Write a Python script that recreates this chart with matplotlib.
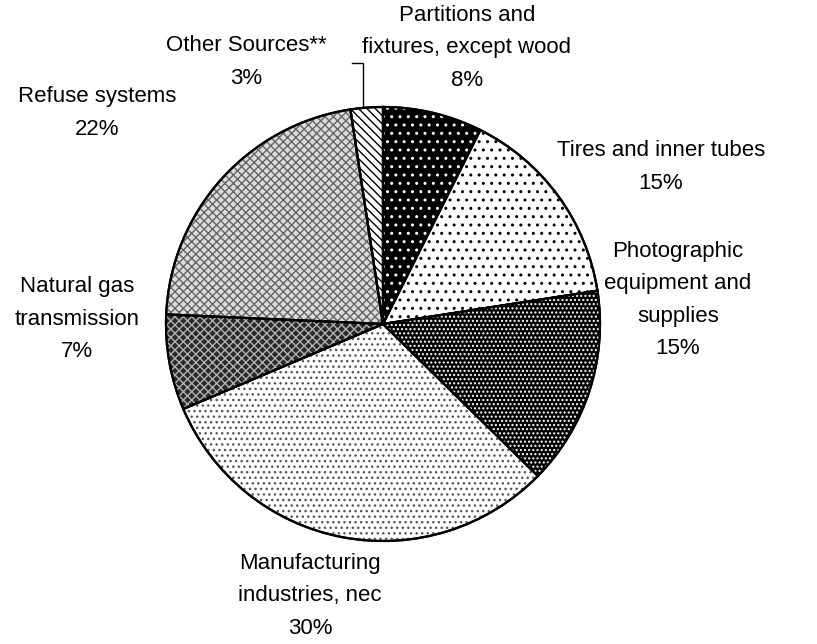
import matplotlib
matplotlib.use("Agg")
import matplotlib.pyplot as plt
from matplotlib.patches import Wedge

plt.rcParams['font.family'] = ['Liberation Sans', 'DejaVu Sans']
plt.rcParams['hatch.linewidth'] = 1.0

labels = ["Partitions and\nfixtures, except wood", "Tires and inner tubes",
          "Photographic\nequipment and\nsupplies", "Manufacturing\nindustries, nec",
          "Natural gas\ntransmission", "Refuse systems", "Other Sources**"]
shares = [7.4, 15.15, 14.8, 31.25, 7.1, 21.9, 2.4]   # parts
pct_labels = [8, 15, 15, 30, 7, 22, 3]               # pourcentages affichés

# fond, motif, couleur du motif
faces = ["black", "white", "black", "white", "#2a2a2a", "#dcdcdc", "white"]
hatches = ["..", "..", "....", "...", "xxxx", "xxxx", "\\\\\\\\"]
hcolors = ["white", "black", "white", "#555555", "#b0b0b0", "#666666", "black"]

# position des étiquettes (unités du rayon)
label_pos = [(0.387, 1.272), (1.281, 0.724), (1.359, 0.111), (-0.336, -1.253),
             (-1.41, 0.023), (-1.318, 0.972), (-0.631, 1.207)]

fig = plt.figure(figsize=(8.17, 6.44), dpi=100)
ax = fig.add_axes([0, 0, 1, 1])

wedges, _ = ax.pie(shares, startangle=90, counterclock=False, colors=faces,
                   wedgeprops=dict(edgecolor="black", linewidth=1.6))

for w, h, hc in zip(wedges, hatches, hcolors):
    ax.add_patch(Wedge(w.center, w.r, w.theta1, w.theta2, facecolor="none",
                       edgecolor=hc, hatch=h, linewidth=0, zorder=2))
    ax.add_patch(Wedge(w.center, w.r, w.theta1, w.theta2, fill=False,
                       edgecolor="black", linewidth=1.6, zorder=3))

for lab, p, (x, y) in zip(labels, pct_labels, label_pos):
    ax.text(x, y, lab + "\n" + str(p) + "%", ha="center", va="center",
            fontsize=16, linespacing=1.72)

# trait de rappel pour "Other Sources"
ax.plot([-0.092, -0.092, -0.143], [1.0, 1.203, 1.203], color="black", lw=1)

ax.set_xlim(-383 / 217, (817 - 383) / 217)
ax.set_ylim(-(644 - 324) / 217, 324 / 217)
ax.set_aspect("auto")
ax.axis("off")

fig.savefig("out.png", dpi=100, facecolor="white")
